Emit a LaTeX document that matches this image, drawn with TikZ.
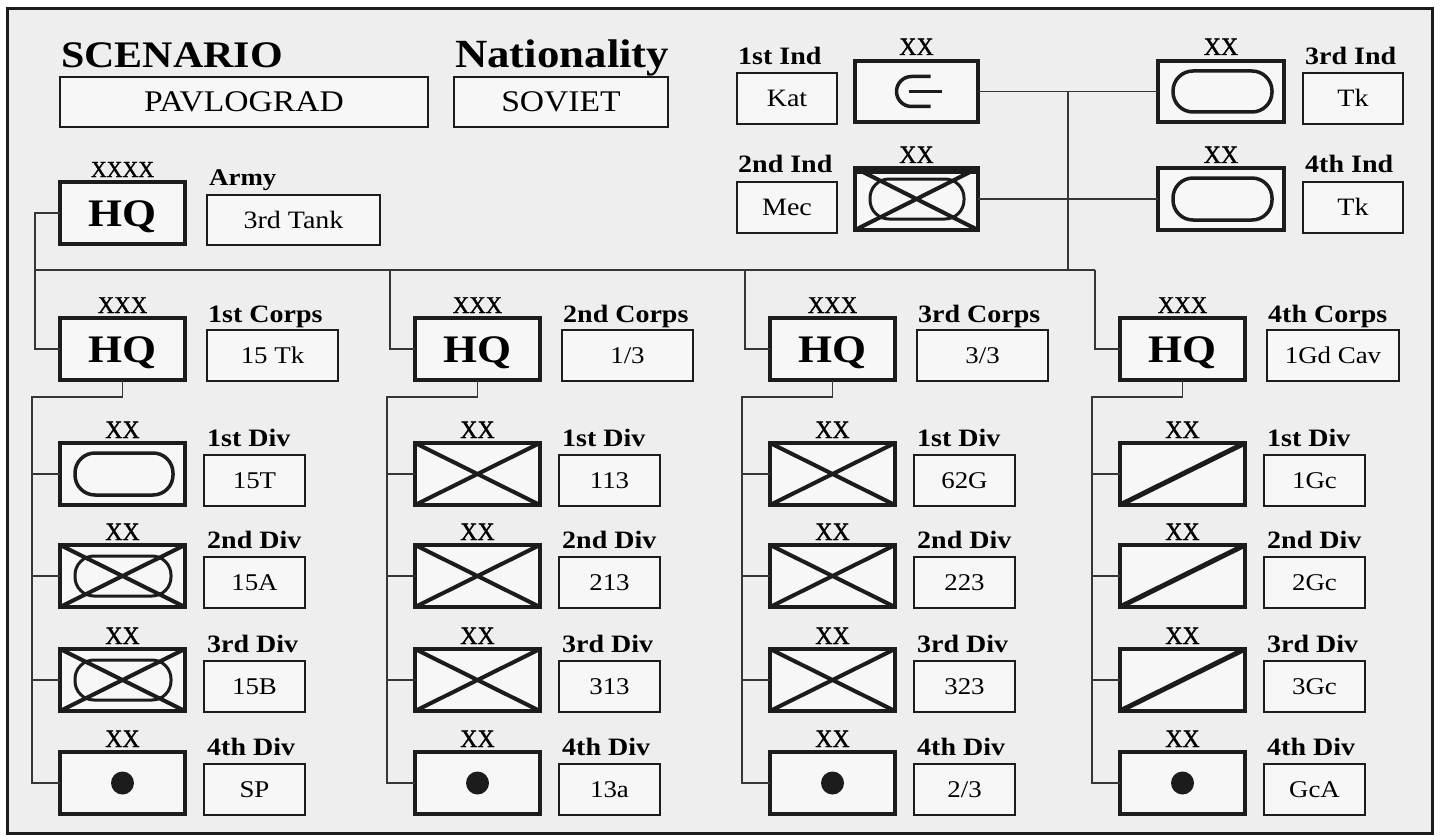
\documentclass[tikz,border=0pt]{standalone}
\usepackage{fontspec}
\setmainfont{Liberation Serif}[FakeStretch=1.12]
\newfontfamily\echfont{Liberation Serif}[FakeStretch=0.95,FakeBold=1.2]
\usetikzlibrary{calc}
\definecolor{ink}{HTML}{1C1C1C}
\definecolor{paper}{HTML}{EEEEEE}
\definecolor{boxfill}{HTML}{F7F7F7}
\definecolor{wire}{HTML}{363636}

\tikzset{
 unitbox/.style={draw=ink, line width=4pt, fill=boxfill, minimum width=125pt, minimum height=62pt, inner sep=0pt, outer sep=0pt, anchor=north west},
 namebox/.style={draw=ink, line width=2pt, fill=boxfill, minimum height=51pt, inner sep=0pt, outer sep=0pt, anchor=north west, font=\fontsize{24}{24}\selectfont, text height=16pt, text depth=0pt},
 echelon/.style={anchor=base, inner sep=0pt, font=\echfont\fontsize{25}{25}\selectfont},
 lbl/.style={anchor=base west, inner sep=0pt, font=\bfseries\fontsize{25}{25}\selectfont},
 conn/.style={draw=wire, line width=1.6pt},
 sym/.style={draw=ink, line width=4pt},
 hqtext/.style={font=\bfseries\fontsize{39}{39}\selectfont, text height=26pt, text depth=0pt},
 title/.style={anchor=base west, inner sep=0pt, font=\bfseries\fontsize{40}{40}\selectfont}
}

\newcommand\orgsyminf[1]{\begin{scope}\clip (#1.south west) rectangle (#1.north east);
 \draw[sym] (#1.south west) -- (#1.north east) (#1.north west) -- (#1.south east);\end{scope}}
\newcommand\orgsymtank[1]{\draw[sym, line width=3.5pt, rounded corners=20pt] ($(#1.south west)+(15,-10)$) rectangle ($(#1.north east)+(-12,10)$);}
\newcommand\orgsymmech[1]{\orgsyminf{#1}\draw[sym, line width=3pt, rounded corners=19pt] ($(#1.south west)+(15,-11)$) rectangle ($(#1.north east)+(-14,11)$);}
\newcommand\orgsymcav[1]{\begin{scope}\clip (#1.south west) rectangle (#1.north east);
 \draw[sym, line width=5pt] (#1.south west) -- (#1.north east);\end{scope}}
\newcommand\orgsymdot[1]{\fill[ink] (#1.center) circle (11.5pt);}

% #1 col, #2 div, #3 x offset, #4 top, #5 symbol, #6 label, #7 value
\newcommand\orgdiv[7]{%
 \node[unitbox] (d#1#2) at ({#3+60},#4) {};
 \csname orgsym#5\endcsname{d#1#2}
 \node[echelon] (e#1#2) at ({#3+122.5},{#4-5}) {XX};
 \node[lbl] (l#1#2) at ({#3+207},{#4+3}) {#6};
 \node[namebox, minimum width=101pt] (n#1#2) at ({#3+204},{#4+12}) {#7};
}
% #1 col, #2 x offset, #3 label, #4 value, #5 width
\newcommand\orgcorps[5]{%
 \node[unitbox, hqtext] (hq#1) at ({#2+60},318) {HQ};
 \node[echelon, font=\echfont\fontsize{24}{24}\selectfont] (x#1) at ({#2+122.5},313) {XXX};
 \node[lbl] (cl#1) at ({#2+208},322) {#3};
 \node[namebox, minimum width=#5] (cn#1) at ({#2+207},330) {#4};
 \coordinate (bus#1) at ({#2+35},270);
 \coordinate (sp#1) at ({#2+32},397);
}

\begin{document}
\begin{tikzpicture}[x=1pt,y=-1pt]
\useasboundingbox (0,0) rectangle (1440,840);
\fill[white] (0,0) rectangle (1440,840);
\draw[draw=ink, line width=3pt, fill=paper] (7,9) rectangle (1432,833);

% titles
\node[title, font=\bfseries\fontsize{37.5}{37.5}\selectfont] (scen) at (61,68) {SCENARIO};
\node[title] (nat) at (455,68) {Nationality};
\node[namebox, minimum width=368pt, minimum height=50pt, font=\fontsize{30}{30}\selectfont, text height=20pt] (scenv) at (60,77) {PAVLOGRAD};
\node[namebox, minimum width=214pt, minimum height=50pt, font=\fontsize{30}{30}\selectfont, text height=20pt] (natv) at (454,77) {SOVIET};

% army
\node[unitbox, hqtext] (hqA) at (60,182) {HQ};
\node[echelon, font=\echfont\fontsize{23}{23}\selectfont] (xA) at (122.5,177) {XXXX};
\node[lbl, font=\bfseries\fontsize{24}{24}\selectfont] (armyl) at (209,185) {Army};
\node[namebox, minimum width=173pt, minimum height=50pt, font=\fontsize{25}{25}\selectfont, text height=16.5pt] (armyv) at (207,195) {3rd Tank};

% independent divisions
\node[lbl] (i1l) at (738,65) {1st Ind};
\node[namebox, minimum width=100pt, font=\fontsize{25}{25}\selectfont, text height=16.5pt] (i1v) at (737,73) {Kat};
\node[unitbox, line width=4.5pt, minimum width=123pt, minimum height=61pt] (ind1) at (855,61) {};
\node[echelon] (i1x) at (916.5,55) {XX};
\draw[sym, line width=3.5pt] ($(ind1.center)+(14,-15)$) -- ++(-19,0) arc[start angle=90, end angle=270, radius=15pt] -- ++(19,0);
\draw[sym, line width=3.5pt] ($(ind1.center)+(-8,0)$) -- ++(33,0);

\node[lbl] (i2l) at (738,172) {2nd Ind};
\node[namebox, minimum width=100pt, font=\fontsize{25}{25}\selectfont, text height=16.5pt] (i2v) at (737,182) {Mec};
\node[unitbox, line width=4.5pt, minimum width=123pt, minimum height=62pt] (ind2) at (855,168) {};
\node[echelon] (i2x) at (916.5,163) {XX};
\orgsymmech{ind2}
\draw[ink, line width=7pt] ($(ind2.north west)+(0,2)$) -- ($(ind2.north east)+(0,2)$);

\node[unitbox, line width=4.5pt, minimum width=126pt, minimum height=61pt] (ind3) at (1158,61) {};
\node[echelon] (i3x) at (1221,55) {XX};
\orgsymtank{ind3}
\node[lbl] (i3l) at (1305,65) {3rd Ind};
\node[namebox, minimum width=100pt, font=\fontsize{25}{25}\selectfont, text height=16.5pt] (i3v) at (1303,73) {Tk};

\node[unitbox, line width=4.5pt, minimum width=126pt, minimum height=62pt] (ind4) at (1158,168) {};
\node[echelon] (i4x) at (1221,163) {XX};
\orgsymtank{ind4}
\node[lbl] (i4l) at (1305,172) {4th Ind};
\node[namebox, minimum width=100pt, font=\fontsize{25}{25}\selectfont, text height=16.5pt] (i4v) at (1303,182) {Tk};

% corps
\orgcorps{1}{0}{1st Corps}{15 Tk}{131pt}
\orgcorps{2}{355}{2nd Corps}{1/3}{131pt}
\orgcorps{3}{710}{3rd Corps}{3/3}{131pt}
\orgcorps{4}{1060}{4th Corps}{1Gd Cav}{132pt}

% divisions
\orgdiv{1}{1}{0}{443}{tank}{1st Div}{15T}
\orgdiv{1}{2}{0}{545}{mech}{2nd Div}{15A}
\orgdiv{1}{3}{0}{649}{mech}{3rd Div}{15B}
\orgdiv{1}{4}{0}{752}{dot}{4th Div}{SP}

\orgdiv{2}{1}{355}{443}{inf}{1st Div}{113}
\orgdiv{2}{2}{355}{545}{inf}{2nd Div}{213}
\orgdiv{2}{3}{355}{649}{inf}{3rd Div}{313}
\orgdiv{2}{4}{355}{752}{dot}{4th Div}{13a}

\orgdiv{3}{1}{710}{443}{inf}{1st Div}{62G}
\orgdiv{3}{2}{710}{545}{inf}{2nd Div}{223}
\orgdiv{3}{3}{710}{649}{inf}{3rd Div}{323}
\orgdiv{3}{4}{710}{752}{dot}{4th Div}{2/3}

\orgdiv{4}{1}{1060}{443}{cav}{1st Div}{1Gc}
\orgdiv{4}{2}{1060}{545}{cav}{2nd Div}{2Gc}
\orgdiv{4}{3}{1060}{649}{cav}{3rd Div}{3Gc}
\orgdiv{4}{4}{1060}{752}{dot}{4th Div}{GcA}

% connectors
\coordinate (tj) at (1068,270);
\draw[conn] (ind1.east) -- (ind3.west);
\draw[conn] (ind2.east) -- (ind4.west);
\draw[conn] (tj |- ind1.east) -- (tj);
\draw[conn] (hqA.west) -| (bus1) |- (hq1.west);
\draw[conn] (bus1) -- (bus4);
\foreach \i in {2,3,4} \draw[conn] (bus\i) |- (hq\i.west);
\foreach \i in {1,2,3,4} {
  \draw[conn] (hq\i.south) |- (sp\i) |- (d\i4.west);
  \foreach \k in {1,2,3} \draw[conn] (sp\i |- d\i\k.west) -- (d\i\k.west);
}
\end{tikzpicture}
\end{document}
